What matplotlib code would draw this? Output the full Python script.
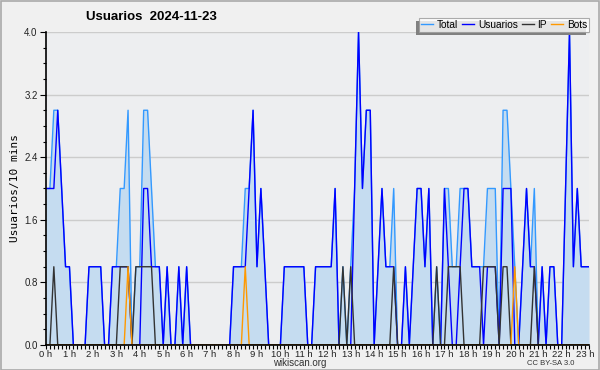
import numpy as np
import matplotlib
matplotlib.use("Agg")
import matplotlib.pyplot as plt

# 10 minute slots from 0:00 to 23:10
usuarios = [2,2,2,3,2,1,1,0,0,0, 0,1,1,1,1,0,0,1,1,1, 1,1,0,0,0,2,2,1,1,1,
            0,1,0,0,1,0,1,0,0,0, 0,0,0,0,0,0,0,0,1,1, 1,1,2,3,1,2,1,0,0,0,
            0,1,1,1,1,1,1,0,0,1, 1,1,1,1,2,0,0,0,0,2, 4,2,3,3,0,1,2,1,1,1,
            0,0,1,0,1,2,2,1,2,0, 0,0,2,1,0,0,1,2,2,1, 1,1,0,1,1,1,0,2,2,2,
            0,0,1,2,1,1,0,1,0,1, 1,0,0,2,4,1,2,1,1,1]
ip = [0,0,1,0,0,0,0,0,0,0, 0,0,0,0,0,0,0,0,0,1, 1,1,0,1,1,1,1,1,0,0,
      0,0,0,0,0,0,0,0,0,0, 0,0,0,0,0,0,0,0,0,0, 0,0,0,0,0,0,0,0,0,0,
      0,0,0,0,0,0,0,0,0,0, 0,0,0,0,0,0,1,0,1,0, 0,0,0,0,0,0,0,0,0,1,
      0,0,0,0,0,0,0,0,0,0, 1,0,0,1,1,1,1,0,0,0, 0,0,1,1,1,1,0,1,1,0,
      0,0,0,0,0,1,0,0,0,0, 0,0,0,0,0,0,0,0,0,0]
bots = [0]*140
bots[21] = 1
bots[51] = 1
bots[120] = 1
total = [2,2,3,3,2,1,1,0,0,0, 0,1,1,1,1,0,0,1,1,2, 2,3,0,1,1,3,3,2,1,1,
         0,1,0,0,1,0,1,0,0,0, 0,0,0,0,0,0,0,0,1,1, 1,2,2,3,1,2,1,0,0,0,
         0,1,1,1,1,1,1,0,0,1, 1,1,1,1,2,0,1,0,1,2, 4,2,3,3,0,1,2,1,1,2,
         0,0,1,0,1,2,2,1,2,0, 1,0,2,2,1,1,2,2,2,1, 1,1,1,2,2,2,0,3,3,2,
         1,0,1,2,1,2,0,1,0,1, 1,0,0,2,4,1,2,1,1,1]
hours = [str(h) + " h" for h in range(24)]
yticks = [0.0, 0.8, 1.6, 2.4, 3.2, 4.0]

x = np.arange(len(total))
fnt = "Liberation Sans"

fig = plt.figure(figsize=(6, 3.7), dpi=100, facecolor="#f0f0f0")
fig.patches.append(plt.Rectangle((0.001, 0.001), 0.997, 0.996, transform=fig.transFigure,
                                 fill=False, edgecolor="#aaaaaa", lw=1.2))
ax = fig.add_axes([0.0767, 0.0676, 0.905, 0.8459])
ax.set_facecolor("#edeef0")

ax.fill_between(x, total, color="#c5dcf0", lw=0)
ax.plot(x, total, color="#3399ff", lw=1, label="Total")
ax.plot(x, usuarios, color="#0000ff", lw=1, label="Usuarios")
ax.plot(x, ip, color="#333333", lw=1, label="IP")
ax.plot(x, bots, color="#ff9900", lw=1, label="Bots")

ax.set_xlim(0, len(total) - 1)
ax.set_ylim(0, 4.0)
ax.set_xticks(np.arange(0, 24) * 6)
ax.set_xticklabels(hours, fontsize=6.8, color="#222222", family=fnt)
ax.set_xticks(x, minor=True)
ax.set_yticks(yticks)
ax.set_yticklabels(["%.1f" % v for v in yticks], fontsize=7, color="#222222", family=fnt)
ax.set_yticks(np.arange(0, 4.01, 0.2), minor=True)
ax.tick_params(axis="x", which="both", length=3, width=0.8, pad=0.5)
ax.tick_params(axis="y", which="major", length=4, width=0.8, pad=2)
ax.tick_params(axis="y", which="minor", length=2, width=0.8)
ax.grid(axis="y", color="#cccccc", lw=1)
ax.set_axisbelow(True)
for s in ["top", "right"]:
    ax.spines[s].set_visible(False)
for s in ["left", "bottom"]:
    ax.spines[s].set_linewidth(1.2)
    ax.spines[s].set_zorder(10)

ax.set_ylabel("Usuarios/10 mins", fontsize=8, family="DejaVu Sans Mono", labelpad=3)

fig.text(0.253, 0.955, "Usuarios  2024-11-23", fontsize=9.5, fontweight="bold",
         family=fnt, ha="center", va="center")
fig.text(0.5, 0.019, "wikiscan.org", fontsize=7, color="#333333", family=fnt, ha="center", va="center")
fig.text(0.958, 0.017, "CC BY-SA 3.0", fontsize=5.5, color="#333333", family=fnt, ha="right", va="center")

leg = ax.legend(loc="lower right", bbox_to_anchor=(1.0, 1.0), ncol=4,
                prop={"family": fnt, "size": 7.3},
                frameon=True, fancybox=False, handlelength=1.2, handletextpad=0.35,
                columnspacing=0.4, borderpad=0.2, borderaxespad=0)
leg.get_frame().set_edgecolor("#999999")
leg.get_frame().set_facecolor("white")
leg.get_frame().set_linewidth(0.8)
for ln in leg.get_lines():
    ln.set_linewidth(1)
leg.set_zorder(6)

# grey drop shadow to the lower left of the legend box
fig.canvas.draw()
bb = leg.get_window_extent()
sh = plt.Rectangle((bb.x0 - 3, bb.y0 - 3), bb.width, bb.height, transform=None,
                   facecolor="#808080", edgecolor="none", zorder=5.5, clip_on=False)
ax.add_artist(sh)

fig.savefig("out.png", dpi=100, facecolor=fig.get_facecolor())
